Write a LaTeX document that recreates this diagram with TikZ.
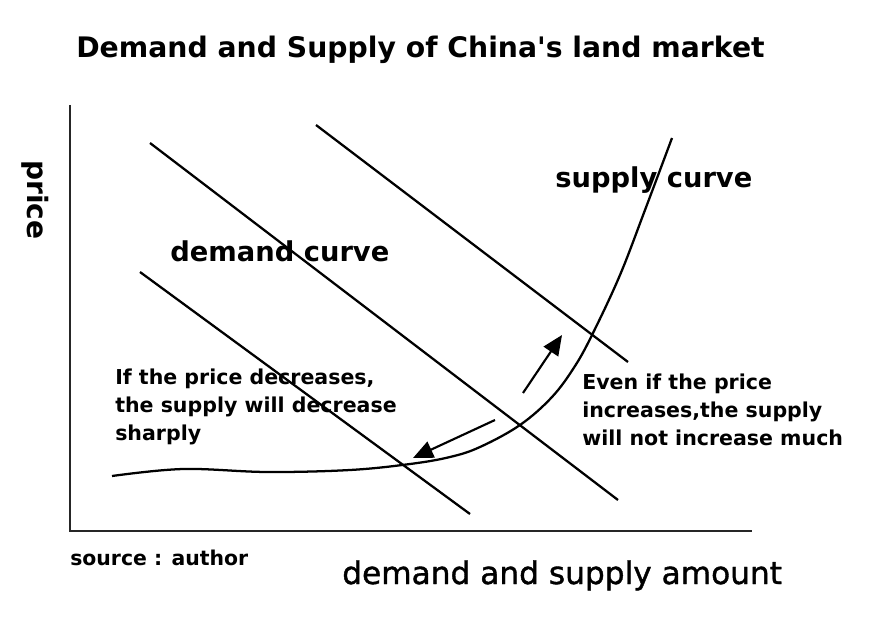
\documentclass[tikz,border=0pt]{standalone}
\usepackage{fontspec}
\setmainfont{DejaVu Sans}[Ligatures=TeXOff]
\usetikzlibrary{arrows.meta}
\tikzset{
  axisline/.style={line width=1.8pt, draw=black!85},
  demandline/.style={line width=1.7pt},
  supplyline/.style={line width=1.7pt},
  bigarrow/.style={line width=1.6pt, -{Triangle[length=15pt,width=13pt]}},
  lbl/.style={font=\bfseries\fontsize{20.5}{24}\selectfont, anchor=base west, inner sep=0pt},
  note/.style={font=\bfseries\fontsize{15.4}{21}\selectfont, anchor=base west, inner sep=0pt, align=left},
}
\begin{document}
\begin{tikzpicture}[x=0.75pt,y=-0.75pt]
\useasboundingbox (0,0) rectangle (880,620);
% axes
\coordinate (top) at (70,105);
\coordinate (origin) at (70,531);
\coordinate (right) at (752,531);
\draw[axisline] (top) -- (origin) -- (right);
% demand lines
\coordinate (d1a) at (140,272); \coordinate (d1b) at (470,514);
\coordinate (d2a) at (150,143); \coordinate (d2b) at (618,500);
\coordinate (d3a) at (316,125); \coordinate (d3b) at (628,362);
\draw[demandline] (d1a) -- (d1b);
\draw[demandline] (d2a) -- (d2b);
\draw[demandline] (d3a) -- (d3b);
% supply curve
\draw[supplyline] plot[smooth, tension=0.6] coordinates {(112,476) (183,469) (267,472) (350,470) (410,464) (450,457) (480,447) (520,425) (552,397) (575,366) (593,333) (620,275) (645,210) (672,138)};
% arrows
\coordinate (u1) at (523,393); \coordinate (u2) at (562,335);
\coordinate (l1) at (495,420); \coordinate (l2) at (413,458);
\draw[bigarrow] (u1) -- (u2);
\draw[bigarrow] (l1) -- (l2);
% texts
\node[font=\bfseries\fontsize{21.2}{24}\selectfont, anchor=base west, inner sep=0pt] (title) at (76,58) {Demand and Supply of China's land market};
\node[font=\bfseries\fontsize{21}{24}\selectfont, anchor=base west, inner sep=0pt, rotate=-90] (price) at (27,160) {price};
\node[lbl] (slabel) at (555,188) {supply curve};
\node[lbl] (dlabel) at (170,261) {demand curve};
\node[note] (lnote) at (115,440) {If the price decreases,\\the supply will decrease\\sharply};
\node[note] (rnote) at (582,445) {Even if the price\\increases,the supply\\will not increase much};
\node[font=\bfseries\fontsize{15.3}{18}\selectfont, anchor=base west, inner sep=0pt] (src) at (70,565) {source : author};
\node[font=\fontsize{23.4}{27}\selectfont\addfontfeatures{FakeBold=1.2}, anchor=base west, inner sep=0pt] (xlabel) at (342,584) {demand and supply amount};
\end{tikzpicture}
\end{document}
